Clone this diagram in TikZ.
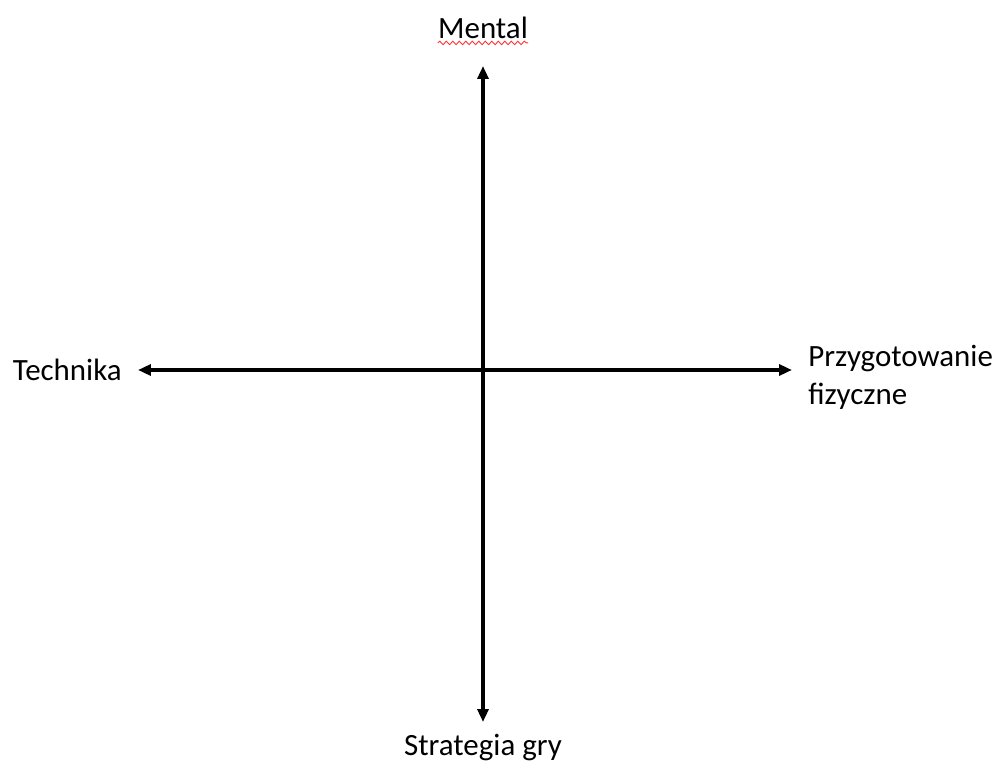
\documentclass[tikz,border=0pt]{standalone}
\usepackage{fontspec}
\setmainfont{Carlito}
\usetikzlibrary{arrows.meta, positioning, decorations.pathmorphing}

\begin{document}
\begin{tikzpicture}[%
    >={Triangle[length=2.6mm, width=2.2mm]}, % small arrow heads
    ]

\tikzset{
  axis/.style={<->, line width=2pt},
  lbl/.style={inner sep=0pt, font=\fontsize{17.6}{21.5}\selectfont}
  };

\useasboundingbox (-9.66,-7.84) rectangle (10.34,7.4);

% ends of the axes
\coordinate (origin) at (0,0);
\coordinate (top) at (0,6.08);
\coordinate (bottom) at (0,-7.04);
\coordinate (left) at (-6.9,0);
\coordinate (right) at (6.18,0);

\draw[axis] (top) -- (bottom);
\draw[axis] (left) -- (right);

% labels
\node[lbl, above=5.4mm of top] (mental) {Mental};
\node[lbl, below=2.4mm of bottom] (strategy) {Strategia gry};
\node[lbl, left=3.2mm of left] (technique) {Technika};
\node[lbl, right=3.2mm of right, align=left, yshift=-1.4mm] (physical)
    {Przygotowanie\\fizyczne};

% spell check mark
\draw[red!80, line width=0.5pt, decorate,
      decoration={snake, amplitude=0.35mm, segment length=1.3mm}]
    ([yshift=-0.9mm]mental.base west) -- ([yshift=-0.9mm]mental.base east);

\end{tikzpicture}
\end{document}
